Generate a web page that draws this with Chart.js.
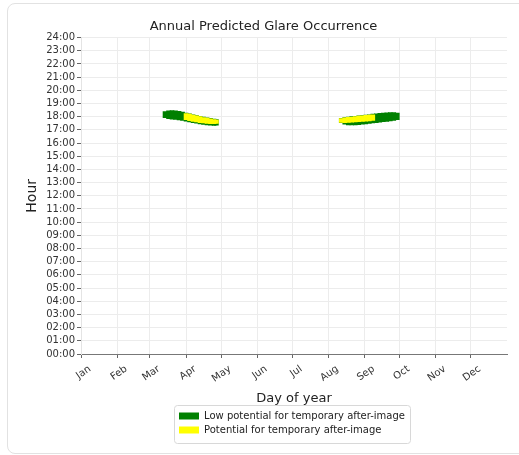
<!DOCTYPE html>
<html>
<head>
<meta charset="utf-8">
<script src="https://cdn.jsdelivr.net/npm/chart.js"></script>
<style>
  html, body { margin: 0; padding: 0; background: #fff; overflow: hidden; }
  .card { position: absolute; left: 7px; top: 3px; width: 530px; height: 449px;
          border: 1px solid #e2e2e2; border-radius: 8px; }
  #chart { position: absolute; left: 0; top: 0; }
</style>
</head>
<body>
<div class="card"></div>
<canvas id="chart" width="519" height="455"></canvas>
<script>
// tick labels
const monthLabels = ['Jan', 'Feb', 'Mar', 'Apr', 'May', 'Jun', 'Jul', 'Aug', 'Sep', 'Oct', 'Nov', 'Dec'];
const monthStarts = [1, 32, 60, 91, 121, 152, 182, 213, 244, 274, 305, 335];
const hourLabels = ['00:00', '01:00', '02:00', '03:00', '04:00', '05:00', '06:00', '07:00', '08:00',
  '09:00', '10:00', '11:00', '12:00', '13:00', '14:00', '15:00', '16:00', '17:00', '18:00',
  '19:00', '20:00', '21:00', '22:00', '23:00', '24:00'];

// low potential for after-image (green), glare window per day, hours
const lowDays  = [73, 76, 79, 82, 85, 88, 91, 94, 97, 100, 103, 106, 109, 112, 115, 117,
                  224, 227, 230, 233, 236, 239, 242, 245, 248, 251, 254, 257, 260, 263, 266, 269, 272];
const lowStart = [17.92, 17.86, 17.82, 17.80, 17.76, 17.72, 17.67, 17.61, 17.55, 17.50, 17.45, 17.41, 17.37, 17.35, 17.34, 17.35,
                  17.55, 17.44, 17.38, 17.37, 17.38, 17.40, 17.43, 17.46, 17.49, 17.52, 17.55, 17.58, 17.62, 17.65, 17.68, 17.72, 17.78];
const lowEnd   = [18.38, 18.45, 18.46, 18.44, 18.40, 18.35, 18.28, 18.22, 18.15, 18.09, 18.03, 17.97, 17.92, 17.87, 17.82, 17.78,
                  17.88, 17.93, 17.97, 18.00, 18.03, 18.06, 18.09, 18.12, 18.15, 18.19, 18.22, 18.25, 18.27, 18.29, 18.31, 18.31, 18.27];

// potential for after-image (yellow)
const highDays  = [91, 94, 97, 100, 103, 106, 109, 112, 115, 117,
                   224, 227, 230, 233, 236, 239, 242, 245, 248, 251];
const highStart = [17.78, 17.70, 17.64, 17.60, 17.55, 17.52, 17.49, 17.47, 17.47, 17.49,
                   17.57, 17.54, 17.56, 17.58, 17.60, 17.62, 17.64, 17.66, 17.68, 17.72];
const highEnd   = [18.24, 18.19, 18.12, 18.06, 18.00, 17.94, 17.89, 17.84, 17.79, 17.74,
                   17.86, 17.91, 17.95, 17.98, 18.01, 18.04, 18.07, 18.10, 18.12, 18.14];

Chart.defaults.font.family = 'DejaVu Sans';
Chart.defaults.color = '#333';

const toBars = (days, s, e) => days.map((d, i) => ({ x: d, y: [s[i], e[i]] }));

// legend rows left-aligned together, block centred under the plot, with a frame
const legendFrame = {
  id: 'legendFrame',
  afterLayout(chart) {
    const lg = chart.legend;
    if (!lg || !lg.lineWidths) return;
    const pad = lg.options.labels.padding;
    const w = Math.max(...lg.lineWidths);
    const cx = (chart.chartArea.left + chart.chartArea.right) / 2;
    const shift = cx - w / 2 - (lg.left + pad);
    lg.left += shift;
    lg.right += shift;
  },
  afterDraw(chart) {
    const boxes = chart.legend && chart.legend.legendHitBoxes;
    if (!boxes || !boxes.length) return;
    const l = Math.min(...boxes.map(b => b.left)) - 5;
    const t = Math.min(...boxes.map(b => b.top)) - 6;
    const r = Math.max(...boxes.map(b => b.left + b.width)) + 5;
    const btm = Math.max(...boxes.map(b => b.top + b.height)) + 8;
    const ctx = chart.ctx;
    ctx.save();
    ctx.strokeStyle = '#d8d8d8';
    ctx.lineWidth = 1;
    ctx.beginPath();
    ctx.roundRect(Math.round(l) + 0.5, Math.round(t) + 0.5, Math.round(r - l), Math.round(btm - t), 3);
    ctx.stroke();
    ctx.restore();
  }
};

const ctx = document.getElementById('chart');
const chart = new Chart(ctx, {
  type: 'bar',
  data: {
    datasets: [{
      label: 'Low potential for temporary after-image',
      data: toBars(lowDays, lowStart, lowEnd),
      backgroundColor: '#008000',
      borderWidth: 0,
      barThickness: 4,
      grouped: false,
      order: 2
    }, {
      label: 'Potential for temporary after-image',
      data: toBars(highDays, highStart, highEnd),
      backgroundColor: '#ffff00',
      borderWidth: 0,
      barThickness: 4,
      grouped: false,
      order: 1
    }]
  },
  options: {
    responsive: false,
    animation: false,
    layout: { padding: { left: 20, right: 12, top: 0, bottom: 10 } },
    plugins: {
      title: {
        display: true,
        text: 'Annual Predicted Glare Occurrence',
        color: '#222',
        font: { size: 13, weight: 'normal' },
        padding: { top: 19, bottom: 3 }
      },
      legend: {
        position: 'bottom',
        align: 'start',
        fullSize: false,
        labels: {
          boxWidth: 20,
          boxHeight: 7,
          padding: 4,
          color: '#222',
          font: { size: 10 },
          sort: (a, b) => a.datasetIndex - b.datasetIndex
        }
      },
      tooltip: { enabled: false }
    },
    scales: {
      x: {
        type: 'linear',
        min: 1,
        max: 366,
        offset: false,
        afterBuildTicks: s => { s.ticks = monthStarts.map(v => ({ value: v })); },
        afterFit: s => { s.height = 53; },
        ticks: {
          autoSkip: false,
          minRotation: 35,
          maxRotation: 35,
          labelOffset: 9,
          padding: 5,
          color: '#333',
          font: { size: 10 },
          callback: v => monthLabels[monthStarts.indexOf(v)]
        },
        grid: { offset: false, color: '#ececec', tickColor: '#666', tickLength: 4 },
        border: { color: '#777' },
        title: {
          display: true,
          text: 'Day of year',
          color: '#222',
          font: { size: 13 },
          padding: { top: 0, bottom: 1 }
        }
      },
      y: {
        min: 0,
        max: 24,
        afterBuildTicks: s => { s.ticks = hourLabels.map((h, i) => ({ value: i })); },
        afterFit: s => { s.width = 61; },
        ticks: {
          autoSkip: false,
          padding: 2,
          color: '#333',
          font: { size: 10 },
          callback: v => hourLabels[v]
        },
        grid: { color: '#ececec', tickColor: '#666', tickLength: 4 },
        border: { color: '#e4e4e4' },
        title: {
          display: true,
          text: 'Hour',
          color: '#222',
          font: { size: 14 },
          padding: { top: 4, bottom: 0 }
        }
      }
    }
  },
  plugins: [legendFrame]
});
</script>
</body>
</html>
